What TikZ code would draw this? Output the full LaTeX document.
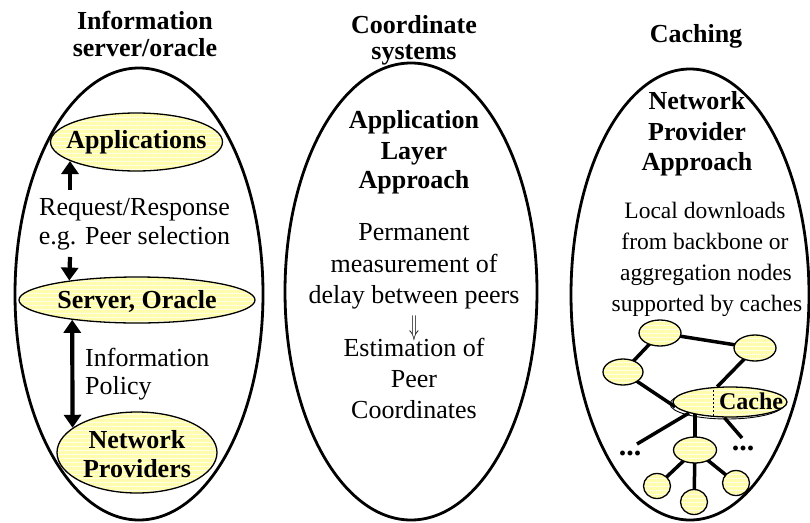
\documentclass[tikz,border=0pt]{standalone}
\usepackage{fontspec}
\setmainfont{Liberation Serif}
\usetikzlibrary{shapes.geometric,arrows.meta,patterns.meta,backgrounds}
\definecolor{ylw}{RGB}{255,252,172}
\tikzdeclarepattern{name=hstripes,type=uncolored,
  bottom left={(0pt,0pt)},top right={(2pt,4pt)},tile size={(2pt,4pt)},
  code={\fill (0pt,0pt) rectangle (2pt,1.4pt);}}
\tikzset{
  big/.style={ellipse, draw, line width=2.8pt, inner sep=0pt},
  yel/.style={ellipse, draw, line width=1.3pt, inner sep=0pt,
    preaction={fill=ylw}, pattern=hstripes, pattern color=white},
  txt/.style={font=\fontsize{26}{31}\selectfont, anchor=base, inner sep=0pt},
  stxt/.style={font=\fontsize{23.5}{31}\selectfont, anchor=base, inner sep=0pt},
  btxt/.style={font=\fontsize{26}{31}\selectfont\bfseries, anchor=base, inner sep=0pt},
  arr/.style={line width=4.2pt, -{Triangle[width=17pt,length=13pt]}},
  dbl/.style={line width=4.2pt, {Triangle[width=17pt,length=13pt]}-{Triangle[width=17pt,length=13pt]}},
  treeedge/.style={line width=3.5pt},
}
\begin{document}
\begin{tikzpicture}[x=1pt,y=-1pt]
\useasboundingbox (0,0) rectangle (810,522);

% ---------- left column ----------
\node[btxt] (t1a) at (145,29) {Information};
\node[btxt] (t1b) at (145,56) {server/oracle};
\node[big, minimum width=248pt, minimum height=452pt] (L) at (139,294) {};
\node[yel, minimum width=172pt, minimum height=58pt] (app) at (136.5,142) {};
\node[btxt] (appt) at (136.5,148) {Applications};
\node[txt] (rr1) at (134.5,215) {Request/Response};
\node[txt] (rr2) at (134.5,244) {e.g. Peer selection};
\node[yel, minimum width=236pt, minimum height=46pt] (srv) at (137,300) {};
\node[btxt] (srvt) at (137,308) {Server, Oracle};
\node[txt, anchor=base west] (ip1) at (85,366) {Information};
\node[txt, anchor=base west] (ip2) at (85,394) {Policy};
\node[yel, minimum width=160pt, minimum height=81pt] (np) at (137,452.5) {};
\node[btxt] (npt1) at (137,448) {Network};
\node[btxt] (npt2) at (137,477) {Providers};
\coordinate (ua) at (70,190);
\coordinate (da) at (70,257);
\draw[arr] (ua) -- (ua |- app.196);
\draw[arr] (da) -- (srv.164);
\draw[dbl] (srv.197) -- (np.159);

% ---------- middle column ----------
\node[btxt] (t2a) at (414,33) {Coordinate};
\node[btxt] (t2b) at (414,59) {systems};
\node[big, minimum width=252pt, minimum height=457pt] (M) at (411,291.5) {};
\node[btxt] (m1) at (414,128) {Application};
\node[btxt] (m2) at (414,159) {Layer};
\node[btxt] (m3) at (414,188) {Approach};
\node[txt] (m4) at (414,240) {Permanent};
\node[txt] (m5) at (414,272) {measurement of};
\node[txt] (m6) at (414,303) {delay between peers};
\node[font=\fontsize{26}{31}\selectfont, anchor=center, inner sep=0pt] (m7) at (414,328) {\scalebox{0.65}[1.15]{$\Downarrow$}};
\node[txt] (m8) at (414,356) {Estimation of};
\node[txt] (m9) at (414,387) {Peer};
\node[txt] (m10) at (414,418) {Coordinates};

% ---------- right column ----------
\node[btxt] (t3) at (696,42) {Caching};
\node[big, minimum width=238pt, minimum height=451pt] (R) at (690,294.5) {};
\node[btxt] (r1) at (697,109) {Network};
\node[btxt] (r2) at (697,140) {Provider};
\node[btxt] (r3) at (697,170) {Approach};
\node[stxt] (r4) at (705,218) {Local downloads};
\node[stxt] (r5) at (705,249) {from backbone or};
\node[stxt] (r6) at (706,280) {aggregation nodes};
\node[stxt] (r7) at (707,311) {supported by caches};

% tree
\node[yel, minimum width=42pt, minimum height=26pt] (A) at (660,333) {};
\node[yel, minimum width=42pt, minimum height=26pt] (B) at (755,348) {};
\node[yel, minimum width=40pt, minimum height=26pt] (C) at (623,372) {};
\node[ellipse, draw, line width=0.9pt, minimum width=114pt, minimum height=30pt, inner sep=0pt] (cacheb) at (727,404) {};
\node[yel, minimum width=114pt, minimum height=30pt] (cache) at (730,402) {};
\coordinate (dsa) at (713,390);
\coordinate (dsb) at (713,416);
\draw[line width=0.6pt, dash pattern=on 2pt off 2pt] (dsa) -- (dsb);
\node[font=\fontsize{24}{28}\selectfont\bfseries, anchor=base, inner sep=0pt] (cachet) at (751,409) {Cache};
\node[yel, minimum width=43pt, minimum height=26pt] (D) at (695,450) {};
\node[yel, minimum width=27pt, minimum height=25pt] (E) at (657,486) {};
\node[yel, minimum width=27pt, minimum height=25pt] (F) at (694,502) {};
\node[yel, minimum width=27pt, minimum height=25pt] (G) at (736,483) {};
\node[font=\fontsize{30}{31}\selectfont\bfseries, anchor=base, inner sep=0pt] (dotl) at (630,455) {...};
\node[font=\fontsize{30}{31}\selectfont\bfseries, anchor=base, inner sep=0pt] (dotr) at (743,450) {...};
\coordinate (el) at (637,444);
\coordinate (er) at (742,438);

\begin{scope}[on background layer]
\draw[treeedge] (A.center) -- (B.center);
\draw[treeedge] (A.center) -- (C.center);
\draw[treeedge] (C.center) -- (cache.185);
\draw[treeedge] (B.center) -- (cache.130);
\draw[treeedge] (D.center) -- (D.center |- cache.center);
\draw[treeedge] (el) -- (cache.195);
\draw[treeedge] (er) -- (cache.250);
\draw[treeedge] (D.center) -- (E.center);
\draw[treeedge] (D.center) -- (F.center);
\draw[treeedge] (D.center) -- (G.center);
\end{scope}
\end{tikzpicture}
\end{document}
